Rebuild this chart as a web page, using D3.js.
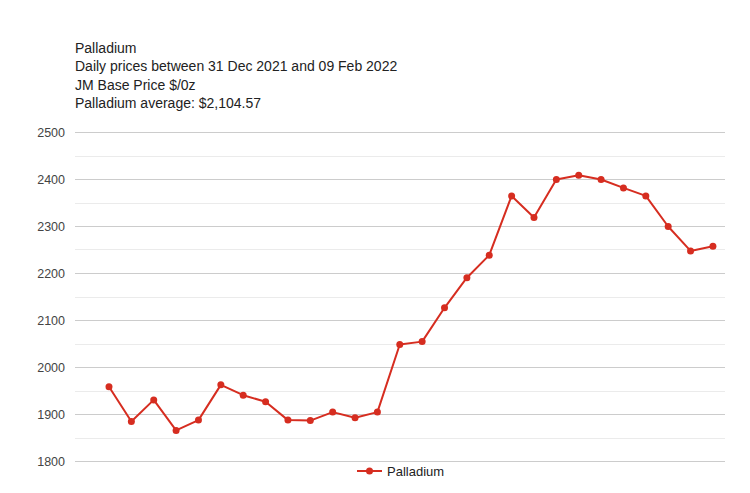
<!DOCTYPE html>
<html><head><meta charset="utf-8">
<script src="https://cdn.jsdelivr.net/npm/d3@7"></script>
<style>body{margin:0;background:#fff;}svg{display:block;font-family:Arial,"Liberation Sans",sans-serif;}</style>
</head><body>
<script>
const titleLines = ["Palladium","Daily prices between 31 Dec 2021 and 09 Feb 2022","JM Base Price $/0z","Palladium average: $2,104.57"];
const dates = ["31 Dec","04 Jan","05 Jan","06 Jan","07 Jan","10 Jan","11 Jan","12 Jan","13 Jan","14 Jan","17 Jan","18 Jan","19 Jan","20 Jan","21 Jan","24 Jan","25 Jan","26 Jan","27 Jan","28 Jan","31 Jan","01 Feb","02 Feb","03 Feb","04 Feb","07 Feb","08 Feb","09 Feb"];
const prices = [1958,1884,1930,1865,1887,1962,1940,1926,1887,1886,1904,1892,1904,2048,2054,2126,2190,2238,2364,2318,2399,2408,2399,2381,2364,2299,2247,2257];
const yTicks = [1800,1900,2000,2100,2200,2300,2400,2500];
const yMinor = [1850,1950,2050,2150,2250,2350,2450];
const seriesName = "Palladium";
const color = "#d62d20";

(function () {
const W = 750, H = 493;
const svg = d3.select("body").append("svg").attr("width", W).attr("height", H);
const pL = 75, pR = 725, pT = 132, pB = 461;

const x = d3.scaleLinear().domain([-1.52, dates.length - 1 + 0.54]).range([pL, pR]);
const y = d3.scaleLinear().domain([1800, 2500]).range([pB, pT]);

svg.append("g").selectAll("text").data(titleLines).join("text")
  .attr("x", 75).attr("y", (d, i) => 53 + i * 18.3)
  .attr("font-size", 14).attr("fill", "#222").text(d => d);

svg.append("g").selectAll("line").data(yMinor).join("line")
  .attr("x1", pL).attr("x2", pR).attr("y1", d => Math.round(y(d)) + 0.5).attr("y2", d => Math.round(y(d)) + 0.5)
  .attr("stroke", "#ebebeb").attr("stroke-width", 1);

const yAxis = d3.axisLeft(y).tickValues(yTicks).tickSize(-(pR - pL)).tickPadding(10).tickFormat(d3.format("d"));
const ga = svg.append("g").attr("transform", `translate(${pL},0)`).call(yAxis);
ga.select(".domain").remove();
ga.selectAll(".tick line").attr("stroke", "#cccccc");
ga.selectAll(".tick text").attr("font-size", 12.5).attr("fill", "#444").attr("font-family", "Arial, 'Liberation Sans', sans-serif");

const line = d3.line().x((d, i) => x(i)).y(d => y(d));
svg.append("path").datum(prices).attr("d", line).attr("fill", "none")
  .attr("stroke", color).attr("stroke-width", 2).attr("stroke-linejoin", "round");
svg.append("g").selectAll("circle").data(prices).join("circle")
  .attr("cx", (d, i) => x(i)).attr("cy", d => y(d)).attr("r", 3.5).attr("fill", color);

const lg = svg.append("g").attr("transform", "translate(357,471)");
lg.append("line").attr("x1", 0).attr("x2", 25).attr("y1", 0).attr("y2", 0).attr("stroke", color).attr("stroke-width", 2);
lg.append("circle").attr("cx", 12.5).attr("cy", 0).attr("r", 3.5).attr("fill", color);
lg.append("text").attr("x", 30).attr("y", 4.5).attr("font-size", 13).attr("fill", "#222").text(seriesName);
})();
</script>
</body></html>
